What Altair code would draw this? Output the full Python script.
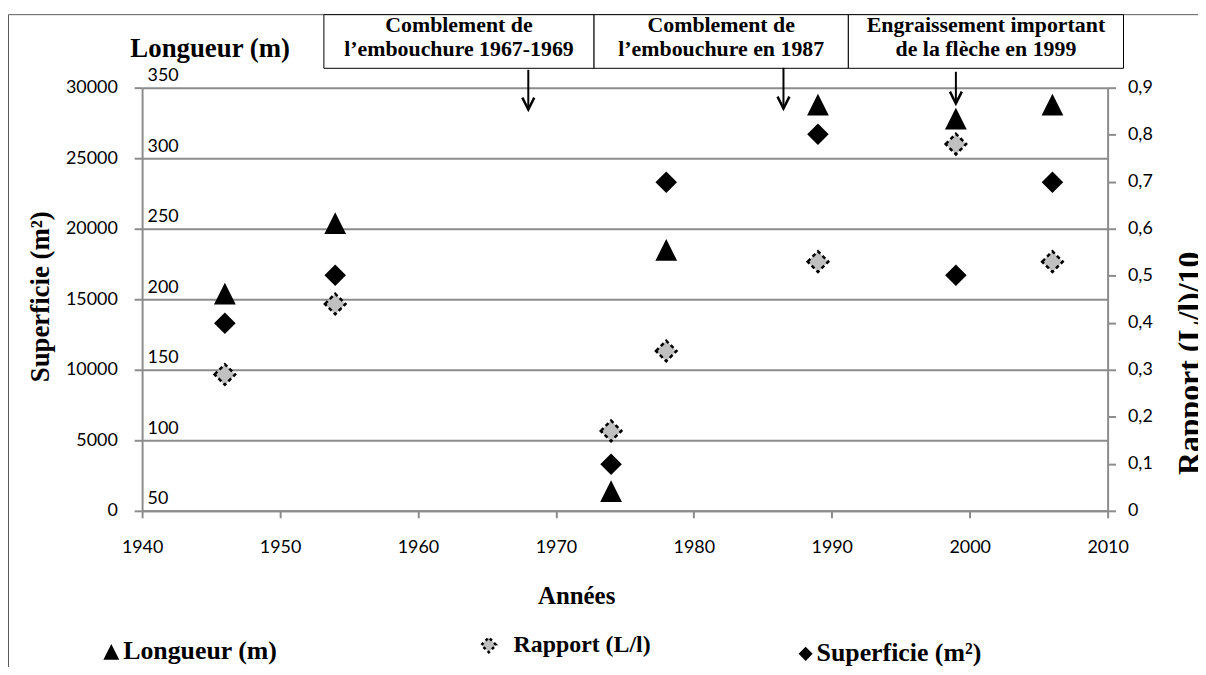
import altair as alt
import pandas as pd

# ---------------- data ----------------
years = [1946, 1954, 1974, 1978, 1989, 1999, 2006]
superficie = [13300, 16700, 3300, 23300, 26700, 16700, 23300]   # m2
longueur = [204, 254, 64, 235, 338, 328, 338]                    # m
rapport = [0.29, 0.44, 0.17, 0.34, 0.53, 0.78, 0.53]             # (L/l)/10

x_ticks = [1940, 1950, 1960, 1970, 1980, 1990, 2000, 2010]
sup_ticks = [0, 5000, 10000, 15000, 20000, 25000, 30000]
long_ticks = [50, 100, 150, 200, 250, 300, 350]
rap_ticks = [0, 0.1, 0.2, 0.3, 0.4, 0.5, 0.6, 0.7, 0.8, 0.9]

event_years = [1968, 1986.5, 1999]
event_texts = [
    ["Comblement de", "l’embouchure 1967-1969"],
    ["Comblement de", "l’embouchure en 1987"],
    ["Engraissement  important", "de la flèche en 1999"],
]
legend_labels = ["Longueur (m)", "Rapport (L/l)", "Superficie (m²)"]

df = pd.DataFrame({"annee": years, "superficie": superficie,
                   "longueur": longueur, "rapport": rapport})

# ---------------- style ----------------
W, H = 972, 426
GRAY = "#8c8c8c"
SERIF = "Liberation Serif"
SANS = "Lato"
TRI = "M0,-1L1,1L-1,1Z"
one = pd.DataFrame({"k": [0]})

x_enc = alt.X(
    "annee:Q",
    scale=alt.Scale(domain=[1940, 2010], nice=False, zero=False),
    axis=alt.Axis(values=x_ticks, format="d", title="Années", titleX=437, titleY=85,
                  titleAlign="center", titleBaseline="middle", titleFont=SERIF,
                  titleFontSize=25, titleFontWeight="bold", titleColor="black",
                  labelFont=SANS, labelFontSize=18, labelColor="black", labelPadding=21,
                  labelFlush=False, labelOverlap=False,
                  tickSize=7, tickColor=GRAY, tickWidth=2,
                  domainColor=GRAY, domainWidth=2, grid=False),
)

sup_layer = alt.Chart(df).mark_point(
    shape="diamond", filled=True, color="black", size=470, opacity=1
).encode(
    x=x_enc,
    y=alt.Y("superficie:Q", scale=alt.Scale(domain=[0, 30000], nice=False),
            axis=alt.Axis(orient="left", values=sup_ticks, format="d",
                          title="Superficie (m²)", titleAngle=270, titleX=-102, titleY=210,
                          titleAlign="center", titleBaseline="middle", titleFont=SERIF,
                          titleFontSize=27, titleFontWeight="bold", titleColor="black",
                          labelFont=SANS, labelFontSize=18, labelColor="black",
                          labelPadding=17, labelOverlap=False,
                          tickSize=8, tickColor=GRAY, tickWidth=2,
                          domainColor=GRAY, domainWidth=2,
                          grid=True, gridColor=GRAY, gridWidth=2)),
)

long_layer = alt.Chart(df).mark_point(
    shape=TRI, filled=True, color="black", size=480, opacity=1
).encode(
    x=x_enc,
    y=alt.Y("longueur:Q", scale=alt.Scale(domain=[50, 350], nice=False, zero=False),
            axis=alt.Axis(orient="left", values=long_ticks, domain=False, ticks=False,
                          tickSize=0, grid=False, labelAlign="left", labelPadding=-5,
                          labelBaseline="bottom", labelOffset=-3,
                          labelFont=SANS, labelFontSize=18, labelColor="black",
                          labelOverlap=False,
                          title="Longueur (m)", titleAngle=0, titleX=68, titleY=-39,
                          titleAlign="center", titleBaseline="middle", titleFont=SERIF,
                          titleFontSize=27, titleFontWeight="bold", titleColor="black")),
)

rap_layer = alt.Chart(df).mark_point(
    shape="diamond", filled=True, fill="#c0c0c0", stroke="black", strokeWidth=2.5,
    strokeDash=[4, 3], size=430, opacity=1, fillOpacity=1, strokeOpacity=1
).encode(
    x=x_enc,
    y=alt.Y("rapport:Q", scale=alt.Scale(domain=[0, 0.9], nice=False),
            axis=alt.Axis(orient="right", values=rap_ticks,
                          labelExpr="datum.value == 0 ? '0' : replace(format(datum.value, '.1f'), '.', ',')",
                          title="Rapport (L/l)/10", titleAngle=270, titleX=83, titleY=277,
                          titleAlign="center", titleBaseline="middle", titleFont=SERIF,
                          titleFontSize=32, titleFontWeight="bold", titleColor="black",
                          labelFont=SANS, labelFontSize=18, labelColor="black",
                          labelPadding=12, labelOverlap=False,
                          tickSize=8, tickColor=GRAY, tickWidth=2,
                          domainColor=GRAY, domainWidth=2, grid=False)),
)

# ---------------- decorations ----------------
frame = alt.Chart(one).mark_rect(
    fill="white", fillOpacity=0, stroke="#595959", strokeWidth=1
).encode(x=alt.value(-134.5), x2=alt.value(1300), y=alt.value(-73.5), y2=alt.value(800))

box_x = [(183, 455), (455, 711), (711, 988)]
box_layers = []
for (bx1, bx2), txt in zip(box_x, event_texts):
    box_layers.append(
        alt.Chart(one).mark_rect(fill="white", stroke="black", strokeWidth=1)
        .encode(x=alt.value(bx1), x2=alt.value(bx2), y=alt.value(-73.5), y2=alt.value(-19.5))
    )
    box_layers.append(
        alt.Chart(one).mark_text(font=SERIF, fontSize=22, fontWeight="bold", color="black",
                                 align="center", baseline="middle", lineHeight=24)
        .encode(x=alt.value((bx1 + bx2) / 2), y=alt.value(-63), text=alt.value(txt))
    )

arrow_y = [(-18, 22), (-20, 21), (-16, 16)]
arrow_layers = []
for yr, (ay1, ay2) in zip(event_years, arrow_y):
    d = pd.DataFrame({"annee": [yr]})
    arrow_layers.append(
        alt.Chart(d).mark_rule(color="black", strokeWidth=2)
        .encode(x=x_enc, y=alt.value(ay1), y2=alt.value(ay2))
    )
    arrow_layers.append(
        alt.Chart(d).mark_point(shape="M-1,-1L0,1L1,-1", filled=False, color="black",
                                strokeWidth=2.5, size=144, opacity=1)
        .encode(x=x_enc, y=alt.value(ay2 - 6))
    )

# legend (manual, bottom)
leg_layers = [
    alt.Chart(one).mark_point(shape=TRI, filled=True, color="black", size=256, opacity=1)
    .encode(x=alt.value(-31), y=alt.value(568)),
    alt.Chart(one).mark_text(font=SERIF, fontSize=26, fontWeight="bold", color="black",
                             align="left", baseline="middle")
    .encode(x=alt.value(-19), y=alt.value(567), text=alt.value(legend_labels[0])),
    alt.Chart(one).mark_point(shape="diamond", filled=True, fill="#c0c0c0", stroke="black",
                              strokeWidth=2.5, strokeDash=[3, 3], size=220, opacity=1,
                              fillOpacity=1, strokeOpacity=1)
    .encode(x=alt.value(349), y=alt.value(561)),
    alt.Chart(one).mark_text(font=SERIF, fontSize=24, fontWeight="bold", color="black",
                             align="left", baseline="middle")
    .encode(x=alt.value(374), y=alt.value(561), text=alt.value(legend_labels[1])),
    alt.Chart(one).mark_point(shape="diamond", filled=True, color="black", size=200, opacity=1)
    .encode(x=alt.value(668), y=alt.value(570)),
    alt.Chart(one).mark_text(font=SERIF, fontSize=26, fontWeight="bold", color="black",
                             align="left", baseline="middle")
    .encode(x=alt.value(679), y=alt.value(569), text=alt.value(legend_labels[2])),
]

chart = alt.layer(
    frame, sup_layer, long_layer, rap_layer, *box_layers, *arrow_layers, *leg_layers
).resolve_scale(y="independent").resolve_axis(y="independent").properties(
    width=W, height=H,
    autosize=alt.AutoSizeParams(type="none"),
    padding={"left": 135, "top": 78, "right": 91, "bottom": 155},
).configure_view(stroke=None)

chart.save("out.html", embed_options={"renderer": "svg", "actions": False})
